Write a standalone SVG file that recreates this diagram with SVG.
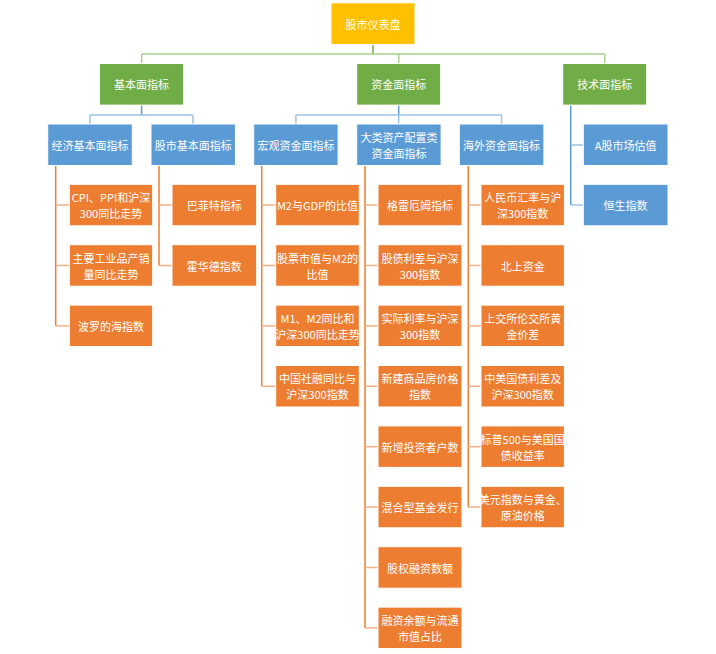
<svg xmlns="http://www.w3.org/2000/svg" width="716" height="654" viewBox="0 0 716 654">
<style>
.box{stroke:#ffffff;stroke-width:1}
.y{fill:#FFC000}.g{fill:#70AD47}.b{fill:#5B9BD5}.o{fill:#ED7D31}
text{font-family:"Noto Sans CJK SC","Microsoft YaHei",sans-serif;font-size:11px;fill:#ffffff;text-anchor:middle;dominant-baseline:central}
.c line{fill:none;stroke-width:1.5}
.gd{stroke:#70AD47}.gl{stroke:#A9D18E}
.bd{stroke:#5B9BD5}.bl{stroke:#9DC3E6}
.od{stroke:#ED7D31}.ol{stroke:#F4B183}
</style>
<rect width="716" height="654" fill="#ffffff"/>
<g id="connectors" class="c">
<line class="gd" x1="373" y1="44.5" x2="373" y2="54"/>
<line class="gl" x1="141.6" y1="54" x2="604.7" y2="54"/>
<line class="gl" x1="141.6" y1="54" x2="141.6" y2="63.3"/>
<line class="gl" x1="398.7" y1="54" x2="398.7" y2="63.3"/>
<line class="gl" x1="604.7" y1="54" x2="604.7" y2="63.3"/>
<line class="bd" x1="141.6" y1="105.3" x2="141.6" y2="115"/>
<line class="bl" x1="90" y1="115" x2="193" y2="115"/>
<line class="bl" x1="90" y1="115" x2="90" y2="124"/>
<line class="bl" x1="193" y1="115" x2="193" y2="124"/>
<line class="bd" x1="398.7" y1="105.3" x2="398.7" y2="115"/>
<line class="bl" x1="295.9" y1="115" x2="501.6" y2="115"/>
<line class="bl" x1="295.9" y1="115" x2="295.9" y2="124"/>
<line class="bl" x1="398.7" y1="115" x2="398.7" y2="124"/>
<line class="bl" x1="501.6" y1="115" x2="501.6" y2="124"/>
<line class="bd" x1="570.7" y1="105.3" x2="570.7" y2="205"/>
<line class="bl" x1="570.7" y1="145" x2="583.3" y2="145"/>
<line class="bl" x1="570.7" y1="205" x2="583.3" y2="205"/>
<line class="od" x1="55.7" y1="165.5" x2="55.7" y2="325.9"/>
<line class="ol" x1="55.7" y1="205" x2="69.3" y2="205"/>
<line class="ol" x1="55.7" y1="265.5" x2="69.3" y2="265.5"/>
<line class="ol" x1="55.7" y1="325.9" x2="69.3" y2="325.9"/>
<line class="od" x1="159" y1="165.5" x2="159" y2="265.5"/>
<line class="ol" x1="159" y1="205" x2="172" y2="205"/>
<line class="ol" x1="159" y1="265.5" x2="172" y2="265.5"/>
<line class="od" x1="261.7" y1="165.5" x2="261.7" y2="386.3"/>
<line class="ol" x1="261.7" y1="205" x2="275.7" y2="205"/>
<line class="ol" x1="261.7" y1="265.5" x2="275.7" y2="265.5"/>
<line class="ol" x1="261.7" y1="325.9" x2="275.7" y2="325.9"/>
<line class="ol" x1="261.7" y1="386.3" x2="275.7" y2="386.3"/>
<line class="od" x1="365" y1="165.5" x2="365" y2="627.9"/>
<line class="ol" x1="365" y1="205" x2="378" y2="205"/>
<line class="ol" x1="365" y1="265.5" x2="378" y2="265.5"/>
<line class="ol" x1="365" y1="325.9" x2="378" y2="325.9"/>
<line class="ol" x1="365" y1="386.3" x2="378" y2="386.3"/>
<line class="ol" x1="365" y1="446.7" x2="378" y2="446.7"/>
<line class="ol" x1="365" y1="507" x2="378" y2="507"/>
<line class="ol" x1="365" y1="567.5" x2="378" y2="567.5"/>
<line class="ol" x1="365" y1="627.9" x2="378" y2="627.9"/>
<line class="od" x1="468.3" y1="165.5" x2="468.3" y2="507"/>
<line class="ol" x1="468.3" y1="205" x2="481" y2="205"/>
<line class="ol" x1="468.3" y1="265.5" x2="481" y2="265.5"/>
<line class="ol" x1="468.3" y1="325.9" x2="481" y2="325.9"/>
<line class="ol" x1="468.3" y1="386.3" x2="481" y2="386.3"/>
<line class="ol" x1="468.3" y1="446.7" x2="481" y2="446.7"/>
<line class="ol" x1="468.3" y1="507" x2="481" y2="507"/>
</g>
<g id="root"><rect class="box y" x="331" y="2.8" width="84" height="41.6"/><text x="373" y="23.6">股市仪表盘</text></g>
<g id="fundamental"><rect class="box g" x="99.5" y="63.5" width="84" height="41.6"/><text x="141.5" y="84.3">基本面指标</text></g>
<g id="capital"><rect class="box g" x="356.7" y="63.5" width="84" height="41.6"/><text x="398.7" y="84.3">资金面指标</text></g>
<g id="technical"><rect class="box g" x="562.7" y="63.5" width="84" height="41.6"/><text x="604.7" y="84.3">技术面指标</text></g>
<g id="econ"><rect class="box b" x="47.7" y="124" width="84.6" height="41.5"/><text x="90" y="144.8">经济基本面指标</text></g>
<g id="stockfund"><rect class="box b" x="151" y="124" width="84.4" height="41.5"/><text x="193.2" y="144.8">股市基本面指标</text></g>
<g id="macro"><rect class="box b" x="253.7" y="124" width="84.4" height="41.5"/><text x="295.9" y="144.8">宏观资金面指标</text></g>
<g id="asset"><rect class="box b" x="356.7" y="124" width="84.4" height="41.5"/><text x="398.9" y="136.8">大类资产配置类</text><text x="398.9" y="152.8">资金面指标</text></g>
<g id="overseas"><rect class="box b" x="459.3" y="124" width="84.6" height="41.5"/><text x="501.6" y="144.8">海外资金面指标</text></g>
<g id="ashare"><rect class="box b" x="583.3" y="124" width="84.7" height="41.5"/><text x="625.6" y="144.8">A股市场估值</text></g>
<g id="hangseng"><rect class="box b" x="583.3" y="184.3" width="84.7" height="41.5"/><text x="625.6" y="205">恒生指数</text></g>
<g id="c1n1"><rect class="box o" x="69.3" y="184.3" width="83.4" height="41.5"/><text x="111" y="197">CPI、PPI和沪深</text><text x="111" y="213">300同比走势</text></g>
<g id="c1n2"><rect class="box o" x="69.3" y="244.7" width="83.4" height="41.5"/><text x="111" y="257.5">主要工业品产销</text><text x="111" y="273.5">量同比走势</text></g>
<g id="c1n3"><rect class="box o" x="69.3" y="305.1" width="83.4" height="41.5"/><text x="111" y="325.9">波罗的海指数</text></g>
<g id="c2n1"><rect class="box o" x="172" y="184.3" width="84.7" height="41.5"/><text x="214.3" y="205">巴菲特指标</text></g>
<g id="c2n2"><rect class="box o" x="172" y="244.7" width="84.7" height="41.5"/><text x="214.3" y="265.5">霍华德指数</text></g>
<g id="c3n1"><rect class="box o" x="275.7" y="184.3" width="83.6" height="41.5"/><text x="317.5" y="205">M2与GDP的比值</text></g>
<g id="c3n2"><rect class="box o" x="275.7" y="244.7" width="83.6" height="41.5"/><text x="317.5" y="257.5">股票市值与M2的</text><text x="317.5" y="273.5">比值</text></g>
<g id="c3n3"><rect class="box o" x="275.7" y="305.1" width="83.6" height="41.5"/><text x="317.5" y="317.9">M1、M2同比和</text><text x="317.5" y="333.9">沪深300同比走势</text></g>
<g id="c3n4"><rect class="box o" x="275.7" y="365.5" width="83.6" height="41.5"/><text x="317.5" y="378.3">中国社融同比与</text><text x="317.5" y="394.3">沪深300指数</text></g>
<g id="c4n1"><rect class="box o" x="378" y="184.3" width="84" height="41.5"/><text x="420" y="205">格雷厄姆指标</text></g>
<g id="c4n2"><rect class="box o" x="378" y="244.7" width="84" height="41.5"/><text x="420" y="257.5">股债利差与沪深</text><text x="420" y="273.5">300指数</text></g>
<g id="c4n3"><rect class="box o" x="378" y="305.1" width="84" height="41.5"/><text x="420" y="317.9">实际利率与沪深</text><text x="420" y="333.9">300指数</text></g>
<g id="c4n4"><rect class="box o" x="378" y="365.5" width="84" height="41.5"/><text x="420" y="378.3">新建商品房价格</text><text x="420" y="394.3">指数</text></g>
<g id="c4n5"><rect class="box o" x="378" y="425.9" width="84" height="41.5"/><text x="420" y="446.7">新增投资者户数</text></g>
<g id="c4n6"><rect class="box o" x="378" y="486.3" width="84" height="41.5"/><text x="420" y="507">混合型基金发行</text></g>
<g id="c4n7"><rect class="box o" x="378" y="546.7" width="84" height="41.5"/><text x="420" y="567.5">股权融资数额</text></g>
<g id="c4n8"><rect class="box o" x="378" y="607.1" width="84" height="41.5"/><text x="420" y="619.9">融资余额与流通</text><text x="420" y="635.9">市值占比</text></g>
<g id="c5n1"><rect class="box o" x="481" y="184.3" width="83.4" height="41.5"/><text x="522.7" y="197">人民币汇率与沪</text><text x="522.7" y="213">深300指数</text></g>
<g id="c5n2"><rect class="box o" x="481" y="244.7" width="83.4" height="41.5"/><text x="522.7" y="265.5">北上资金</text></g>
<g id="c5n3"><rect class="box o" x="481" y="305.1" width="83.4" height="41.5"/><text x="522.7" y="317.9">上交所伦交所黄</text><text x="522.7" y="333.9">金价差</text></g>
<g id="c5n4"><rect class="box o" x="481" y="365.5" width="83.4" height="41.5"/><text x="522.7" y="378.3">中美国债利差及</text><text x="522.7" y="394.3">沪深300指数</text></g>
<g id="c5n5"><rect class="box o" x="481" y="425.9" width="83.4" height="41.5"/><text x="522.7" y="438.7">标普500与美国国</text><text x="522.7" y="454.7">债收益率</text></g>
<g id="c5n6"><rect class="box o" x="481" y="486.3" width="83.4" height="41.5"/><text x="522.7" y="499.1">美元指数与黄金、</text><text x="522.7" y="515.1">原油价格</text></g>
</svg>
